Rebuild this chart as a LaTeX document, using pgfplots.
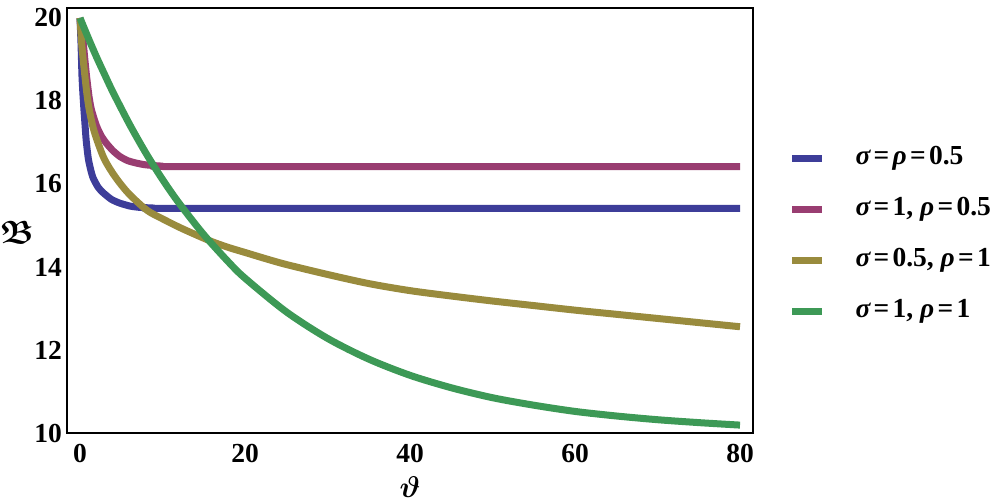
\documentclass[border=0pt]{standalone}
\usepackage{amsmath,amssymb}
\usepackage{fontspec}
\setmainfont{Liberation Serif}[BoldFont={Liberation Serif Bold}, ItalicFont={Liberation Serif Italic}, BoldItalicFont={Liberation Serif Bold Italic}]
\usepackage{pgfplots}
\pgfplotsset{compat=1.18}
\definecolor{cblue}{rgb}{0.24,0.24,0.6}
\definecolor{cpink}{rgb}{0.6,0.24,0.4428}
\definecolor{colive}{rgb}{0.6,0.547,0.24}
\definecolor{cgreen}{rgb}{0.24,0.6,0.337}
\newcommand{\eq}{\hspace{0.12em}=\hspace{0.12em}}
\begin{document}
\begin{tikzpicture}
\useasboundingbox (-26.8pt,-27.2pt) rectangle (373.2pt,173.2pt);
\begin{axis}[
  scale only axis, width=274.4pt, height=170pt,
  xmin=-1.576, xmax=81.576, ymin=10, ymax=20.24,
  xtick={0,20,40,60,80}, ytick={10,12,14,16,18,20},
  major tick length=0pt,
  axis line style={line width=0.8pt},
  /pgf/number format/assume math mode=true,
  tick label style={font=\fontsize{11}{13}\selectfont\bfseries},
  xticklabel style={yshift=-1pt},
  yticklabel style={xshift=1.5pt},
  xlabel={$\boldsymbol{\vartheta}$},
  xlabel style={at={(axis description cs:0.5,0)}, anchor=center, yshift=-21.6pt, font=\fontsize{13}{15}\selectfont},
  ylabel={$\boldsymbol{\mathfrak{B}}$},
  ylabel style={rotate=-90, at={(axis description cs:0,0.473)}, anchor=center, xshift=-20pt, font=\fontsize{13}{15}\selectfont},
  legend style={draw=none, fill=none, at={(axis description cs:1,0.466)}, anchor=west, xshift=14pt, inner sep=0pt, row sep=6.4pt, column sep=10pt,
    nodes={text height=7.5pt, text depth=2.5pt},
    font=\fontsize{11}{13}\selectfont\bfseries},
  legend cell align=left,
  legend image code/.code={\draw[#1, line width=2.8pt] (0pt,0pt) -- (12pt,0pt);},
  every axis plot/.append style={line width=2.8pt, line join=round},
]
\addplot[cblue, smooth, tension=0.4] coordinates {
(0,20) (0.12,19.4) (0.24,18.6) (0.36,18.15) (0.48,17.78) (0.6,17.45) (0.75,17.05) (1.0,16.62) (1.3,16.34) (1.6,16.14) (2.2,15.92) (2.8,15.79) (3.8,15.63) (4.8,15.54) (6,15.47) (7,15.44) (9,15.42) (12,15.41) (80,15.41)
};
\addlegendentry{{\itshape σ}\eq{\itshape ρ}\eq0.5}
\addplot[cpink, smooth, tension=0.4] coordinates {
(0,20) (0.2,19.7) (0.4,19.39) (0.6,18.98) (0.8,18.59) (1.1,18.1) (1.4,17.78) (2,17.4) (2.6,17.15) (3.2,16.98) (4,16.8) (4.85,16.66) (5.8,16.56) (6.9,16.50) (8,16.46) (10,16.43) (13,16.42) (80,16.42)
};
\addlegendentry{{\itshape σ}\eq1, {\itshape ρ}\eq0.5}
\addplot[colive, smooth, tension=0.5] coordinates {
(0,20) (0.2,19.39) (0.4,18.97) (0.6,18.59) (0.85,18.15) (1.13,17.78) (1.6,17.35) (2.2,16.98) (3,16.58) (4.24,16.18) (5.85,15.78) (8.1,15.37) (10,15.16) (12,14.96) (14,14.78) (16,14.61) (18,14.47) (20,14.35) (22.5,14.2) (25,14.06) (30,13.82) (35,13.60) (40,13.43) (45,13.30) (50,13.18) (55,13.07) (60,12.96) (65,12.86) (70,12.76) (75,12.66) (80,12.56)
};
\addlegendentry{{\itshape σ}\eq0.5, {\itshape ρ}\eq1}
\addplot[cgreen, smooth, tension=0.5] coordinates {
(0,20) (1,19.52) (2,19.06) (3,18.63) (4,18.21) (6,17.44) (8,16.74) (10,16.11) (12,15.54) (15,14.78) (18,14.12) (20,13.73) (25,12.92) (30,12.28) (35,11.78) (40,11.39) (45,11.09) (50,10.85) (55,10.67) (60,10.52) (65,10.41) (70,10.32) (75,10.25) (80,10.19)
};
\addlegendentry{{\itshape σ}\eq1, {\itshape ρ}\eq1}
\end{axis}
\end{tikzpicture}
\end{document}
